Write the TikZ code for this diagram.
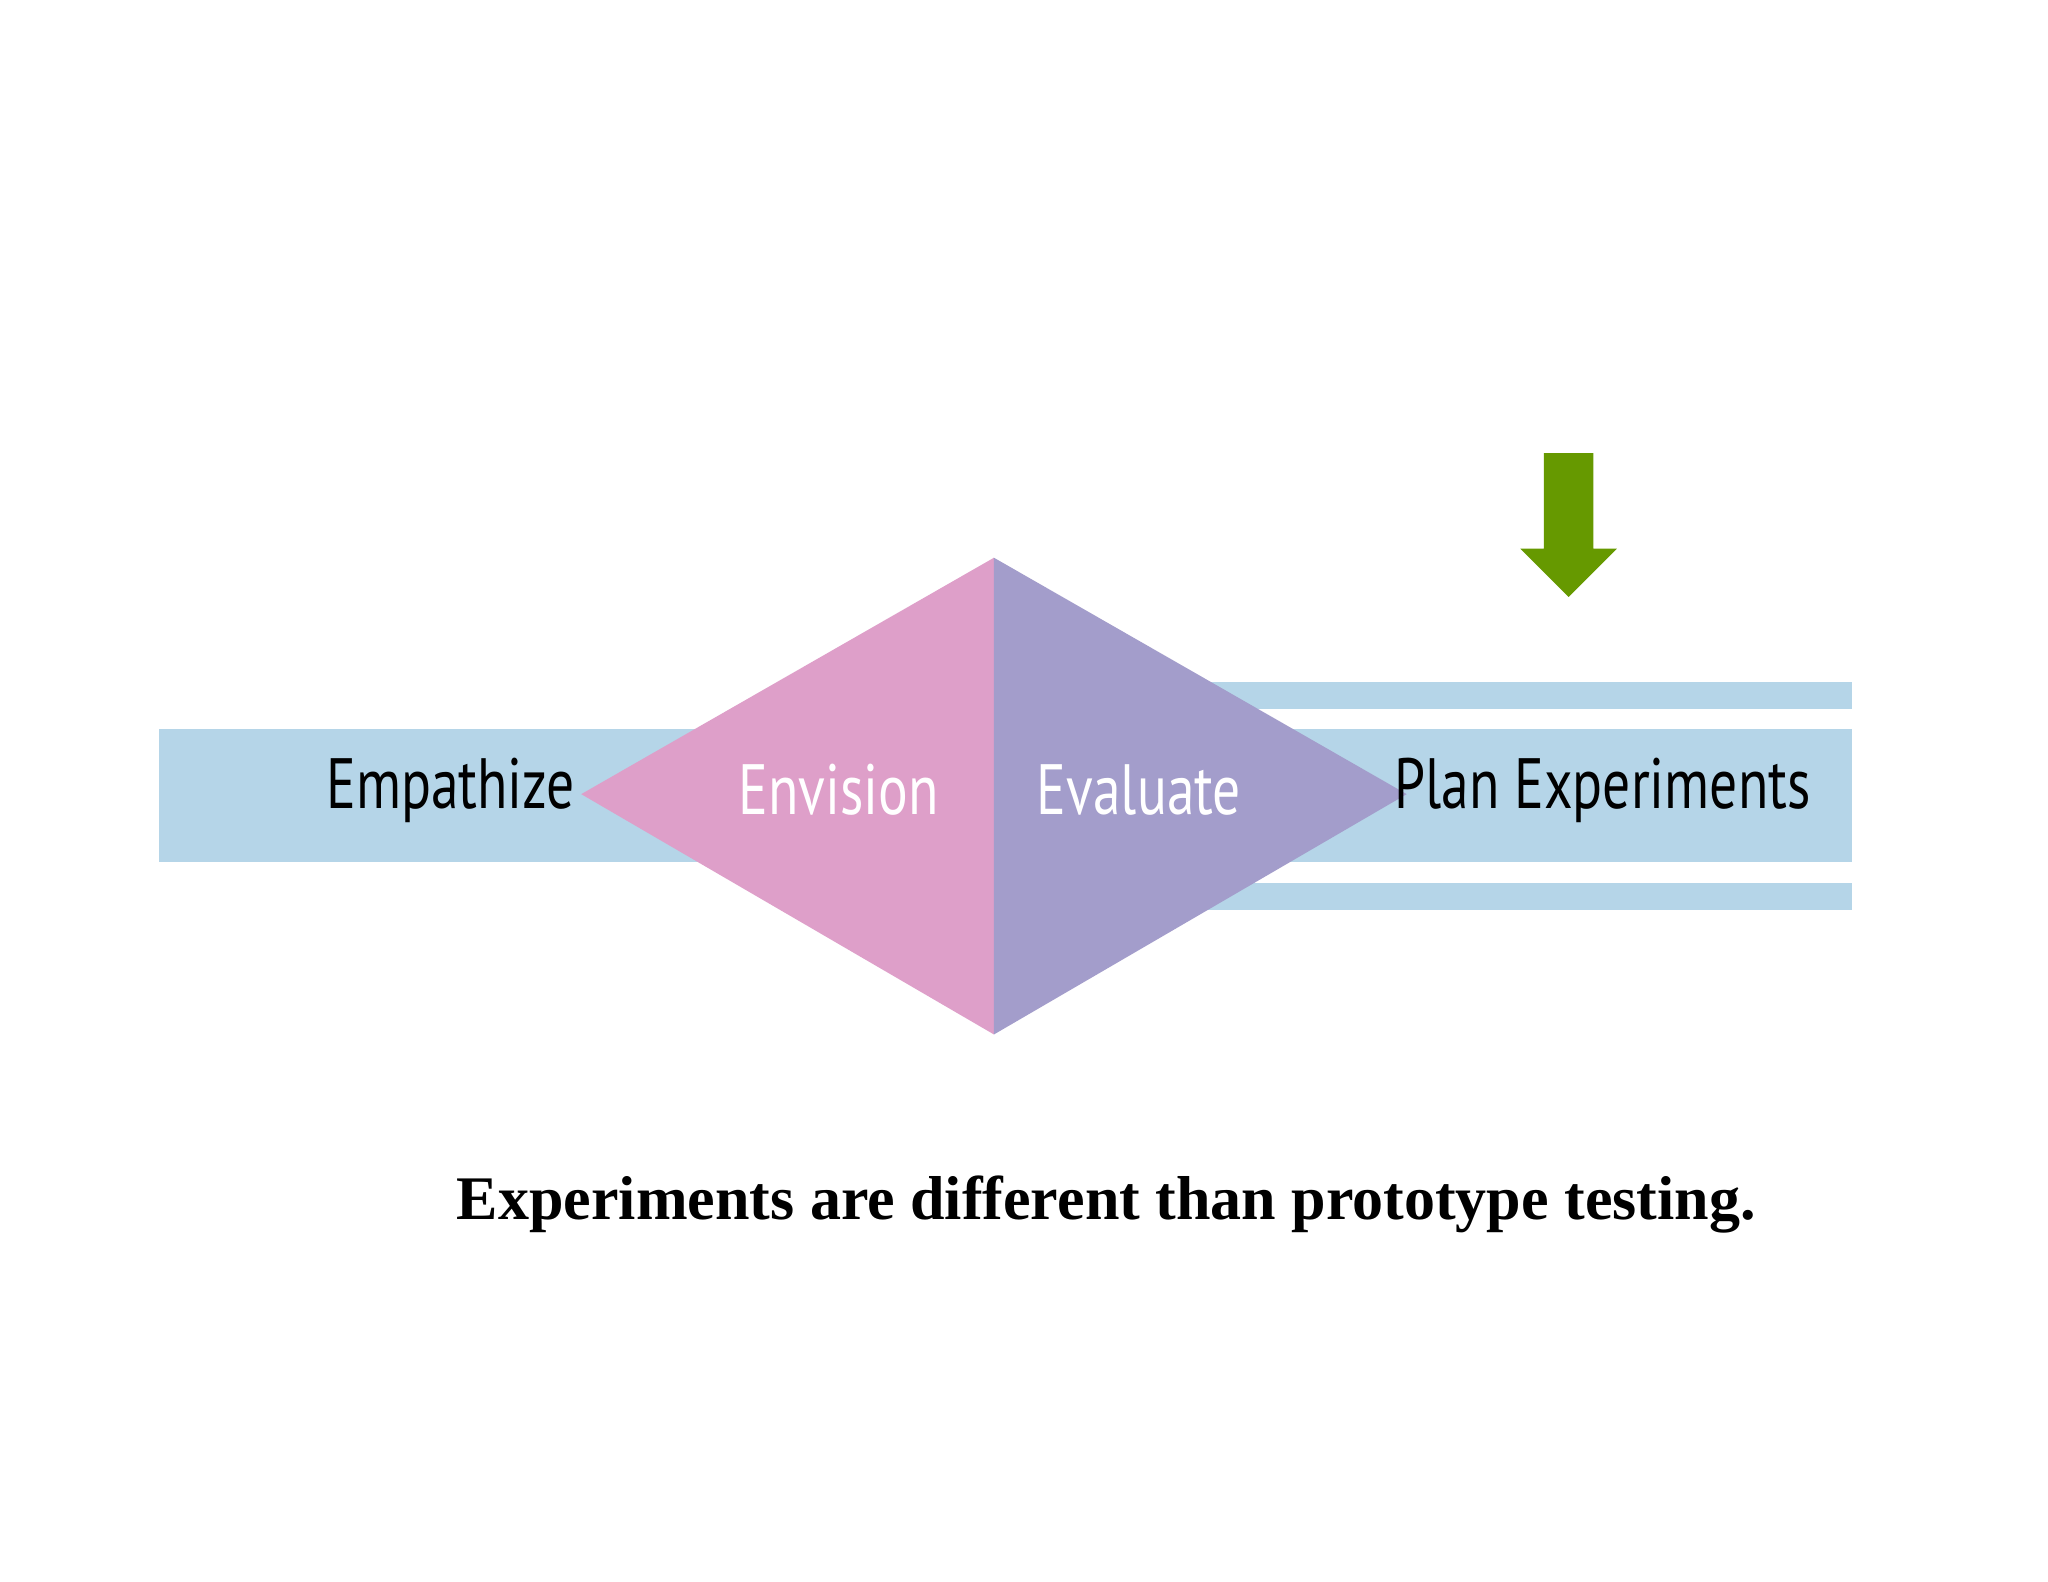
\documentclass[tikz,border=0pt]{standalone}
\usepackage{fontspec}
\setmainfont{Liberation Serif}
\newfontfamily\cond[FakeStretch=0.78]{PT Sans}
\definecolor{band}{HTML}{B5D5E8}
\definecolor{pinkc}{HTML}{DE9FC9}
\definecolor{purc}{HTML}{A39DCB}
\definecolor{greenc}{HTML}{669900}
\begin{document}
\begin{tikzpicture}[x=0.01cm,y=-0.01cm,
  lbl/.style={font=\cond\fontsize{15.5}{18}\selectfont},
  bandbox/.style={fill=band,draw=none}]
\useasboundingbox (0,0) rectangle (1568,1211);
\fill[white] (0,0) rectangle (1568,1211);
\fill[bandbox] (122,558) rectangle (1418,660);
\fill[bandbox] (925,522) rectangle (1418,543);
\fill[bandbox] (925,676) rectangle (1418,697);
\coordinate (L) at (445,608);
\coordinate (T) at (761,427);
\coordinate (B) at (761,792);
\coordinate (R) at (1077,608);
\fill[pinkc] (L) -- (T) -- (B) -- cycle;
\fill[purc] (T) -- (R) -- (B) -- cycle;
\node[lbl] (emp) at (345,605) {Empathize};
\node[lbl,text=white] (env) at (642,605) {Envision};
\node[lbl,text=white] (eva) at (872,605) {Evaluate};
\node[lbl] (plan) at (1227,605) {Plan Experiments};
\fill[greenc] (1182,347) -- (1220,347) -- (1220,420) -- (1238,420) -- (1201,457) -- (1164,420) -- (1182,420) -- cycle;
\node[font=\bfseries\fontsize{13.5}{16}\selectfont] (cap) at (847,922) {Experiments are different than prototype testing.};
\end{tikzpicture}
\end{document}
